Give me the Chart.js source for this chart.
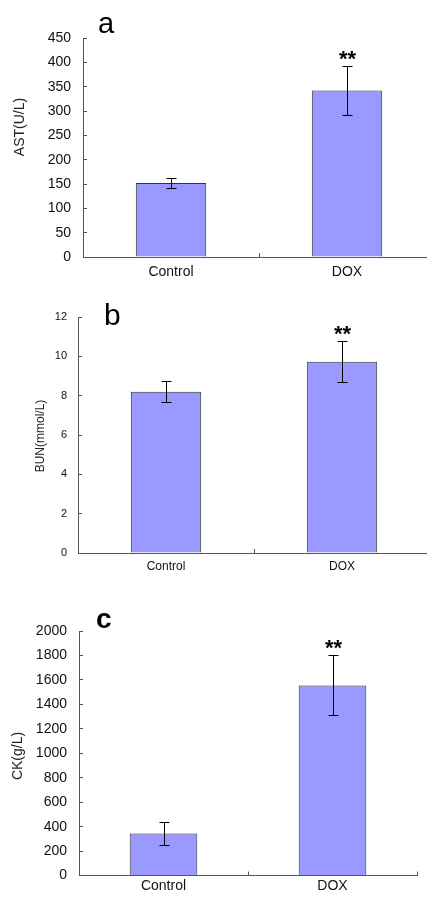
<!DOCTYPE html>
<html>
<head>
<meta charset="utf-8">
<script src="https://cdn.jsdelivr.net/npm/chart.js"></script>
<style>
  body { margin: 0; background: #fff; width: 427px; height: 900px; overflow: hidden; position: relative; }
  canvas { position: absolute; left: 0; }
</style>
</head>
<body>
<canvas id="chartA" width="440" height="290" style="top:0"></canvas>
<canvas id="chartB" width="435" height="300" style="top:290px"></canvas>
<canvas id="chartC" width="420" height="310" style="top:590px"></canvas>
<script>
/* data */
const groups = ['Control', 'DOX'];
const marks = ['', '**'];

const astMean = [152, 342];
const astErr = [10, 50];
const astTicks = { max: 450, step: 50 };

const bunMean = [8.2, 9.72];
const bunErr = [0.53, 1.04];
const bunTicks = { max: 12, step: 2 };

const ckMean = [345, 1555];
const ckErr = [95, 245];
const ckTicks = { max: 2000, step: 200 };

Chart.defaults.font.family = '"Liberation Sans", Arial, sans-serif';
Chart.defaults.color = '#000';

const axisColor = '#555';

/* error bars, stars, panel letter, y title */
const extras = {
  id: 'extras',
  afterDatasetsDraw(chart, args, opts) {
    const ctx = chart.ctx;
    const y = chart.scales.y;
    const meta = chart.getDatasetMeta(0);
    ctx.save();
    ctx.strokeStyle = '#000';
    ctx.lineWidth = 1;
    meta.data.forEach((bar, i) => {
      const x = Math.round(bar.x) + 0.5;
      const top = Math.round(y.getPixelForValue(opts.mean[i] + opts.err[i])) + 0.5;
      const bot = Math.round(y.getPixelForValue(opts.mean[i] - opts.err[i])) + 0.5;
      ctx.beginPath();
      ctx.moveTo(x, top); ctx.lineTo(x, bot);
      ctx.moveTo(x - 5, top); ctx.lineTo(x + 5, top);
      ctx.moveTo(x - 5, bot); ctx.lineTo(x + 5, bot);
      ctx.stroke();
      if (opts.marks[i]) {
        ctx.fillStyle = '#000';
        ctx.font = 'bold 22px "Liberation Sans", Arial, sans-serif';
        ctx.textAlign = 'center';
        ctx.textBaseline = 'alphabetic';
        ctx.fillText(opts.marks[i], x, top - 1);
      }
    });
    ctx.fillStyle = '#000';
    ctx.font = opts.letterFont;
    ctx.textAlign = 'left';
    ctx.textBaseline = 'alphabetic';
    ctx.fillText(opts.letter, opts.letterX, opts.letterY);

    ctx.translate(opts.titleX, opts.titleY);
    ctx.rotate(-Math.PI / 2);
    ctx.font = opts.titleFont;
    ctx.fillStyle = '#222';
    ctx.textAlign = 'center';
    ctx.textBaseline = 'middle';
    ctx.fillText(opts.title, 0, 0);
    ctx.restore();
  }
};

function makeChart(id, mean, err, ticks, p) {
  return new Chart(document.getElementById(id), {
    type: 'bar',
    data: {
      labels: groups,
      datasets: [{
        data: mean,
        backgroundColor: '#9999ff',
        borderColor: '#333',
        borderWidth: 1,
        barPercentage: 0.4,
        categoryPercentage: 1
      }]
    },
    options: {
      responsive: false,
      animation: false,
      layout: { padding: { left: 0, top: p.top, right: p.right, bottom: 0 } },
      scales: {
        x: {
          grid: { drawOnChartArea: false, tickLength: -4, color: axisColor },
          border: { color: axisColor, width: 1 },
          ticks: { font: { size: p.xFont }, padding: p.xPad, color: '#111' },
          afterFit: s => { s.height = p.xHeight; }
        },
        y: {
          min: 0,
          max: ticks.max,
          grid: { drawOnChartArea: false, tickLength: -4, color: axisColor },
          border: { color: axisColor, width: 1 },
          ticks: { stepSize: ticks.step, font: { size: p.yFont }, padding: p.yPad, color: '#111', callback: v => String(v) },
          afterFit: s => { s.width = p.yWidth; }
        }
      },
      plugins: {
        legend: { display: false },
        tooltip: { enabled: false },
        extras: {
          mean: mean, err: err, marks: marks,
          letter: p.letter, letterX: p.letterX, letterY: p.letterY, letterFont: p.letterFont,
          title: p.title, titleX: p.titleX, titleY: p.titleY, titleFont: p.titleFont
        }
      }
    },
    plugins: [extras]
  });
}

makeChart('chartA', astMean, astErr, astTicks, {
  top: 38, right: 5, xHeight: 33, yWidth: 83, xFont: 14, yFont: 14, xPad: 11, yPad: 16,
  letter: 'a', letterX: 98, letterY: 33, letterFont: '29px "Liberation Sans", Arial, sans-serif',
  title: 'AST(U/L)', titleX: 20, titleY: 127, titleFont: '14px "Liberation Sans", Arial, sans-serif'
});

makeChart('chartB', bunMean, bunErr, bunTicks, {
  top: 27, right: 5, xHeight: 37, yWidth: 78, xFont: 12, yFont: 11, xPad: 10, yPad: 15,
  letter: 'b', letterX: 104, letterY: 35, letterFont: '30px "Liberation Sans", Arial, sans-serif',
  title: 'BUN(mmol/L)', titleX: 41, titleY: 146, titleFont: '12px "Liberation Sans", Arial, sans-serif'
});

makeChart('chartC', ckMean, ckErr, ckTicks, {
  top: 41, right: 3, xHeight: 21, yWidth: 79, xFont: 14, yFont: 14, xPad: 6, yPad: 16,
  letter: 'c', letterX: 96, letterY: 38, letterFont: 'bold 28px "Liberation Sans", Arial, sans-serif',
  title: 'CK(g/L)', titleX: 18, titleY: 166, titleFont: '14px "Liberation Sans", Arial, sans-serif'
});
</script>
</body>
</html>
